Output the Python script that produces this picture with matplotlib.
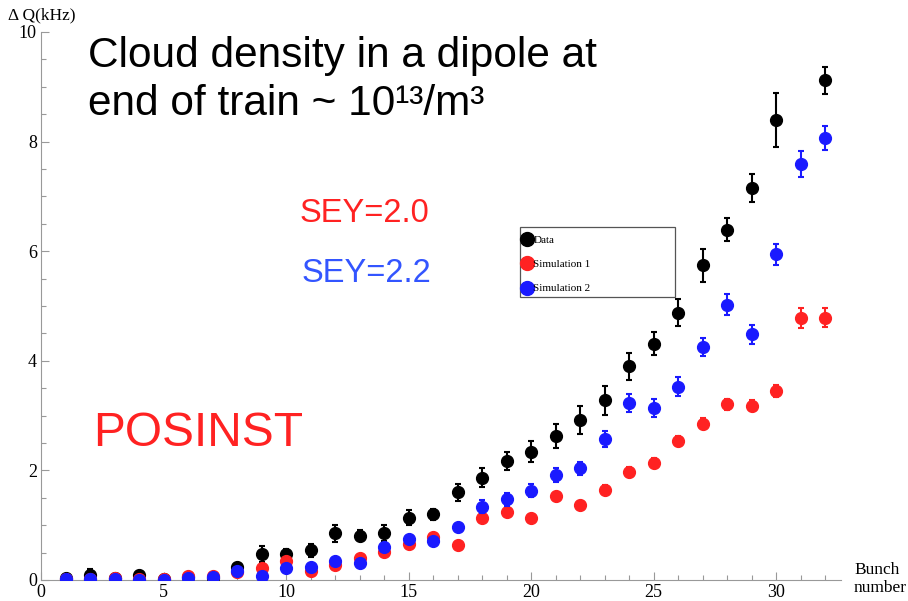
import numpy as np
import matplotlib
matplotlib.use("Agg")
import matplotlib.pyplot as plt
from matplotlib.patches import Rectangle
from matplotlib.ticker import MultipleLocator

# bunch numbers
bunch = np.arange(1, 33)

# measured tune shift (kHz), bunch 31 missing
data_y = [0.03, 0.10, 0.04, 0.10, 0.02, 0.05, 0.04, 0.24, 0.47, 0.47,
          0.54, 0.85, 0.81, 0.86, 1.14, 1.20, 1.60, 1.87, 2.17, 2.34,
          2.63, 2.92, 3.28, 3.90, 4.31, 4.88, 5.74, 6.39, 7.15, 8.40,
          np.nan, 9.12]
data_err = [0.06, 0.10, 0.03, 0.07, 0.06, 0.03, 0.04, 0.07, 0.15, 0.10,
            0.12, 0.15, 0.10, 0.15, 0.13, 0.10, 0.15, 0.18, 0.16, 0.19,
            0.22, 0.26, 0.26, 0.25, 0.21, 0.24, 0.30, 0.21, 0.25, 0.49,
            0.0, 0.25]

# POSINST, SEY=2.0
sim1_y = [0.01, 0.01, 0.03, 0.01, 0.01, 0.08, 0.08, 0.14, 0.22, 0.35,
          0.16, 0.27, 0.41, 0.52, 0.65, 0.78, 0.64, 1.13, 1.25, 1.14,
          1.53, 1.37, 1.65, 1.97, 2.13, 2.53, 2.85, 3.21, 3.18, 3.45,
          4.78, 4.79]
sim1_err = [0.02, 0.02, 0.02, 0.02, 0.02, 0.03, 0.03, 0.04, 0.04, 0.04,
            0.04, 0.04, 0.05, 0.05, 0.05, 0.05, 0.05, 0.07, 0.07, 0.07,
            0.08, 0.07, 0.08, 0.09, 0.09, 0.09, 0.10, 0.10, 0.10, 0.11,
            0.19, 0.18]

# POSINST, SEY=2.2
sim2_y = [0.01, 0.01, 0.01, 0.00, 0.00, 0.03, 0.06, 0.17, 0.08, 0.22,
          0.24, 0.35, 0.31, 0.60, 0.74, 0.72, 0.96, 1.34, 1.47, 1.63,
          1.92, 2.04, 2.57, 3.23, 3.14, 3.53, 4.25, 5.02, 4.48, 5.94,
          7.59, 8.07]
sim2_err = [0.02, 0.02, 0.02, 0.02, 0.02, 0.03, 0.03, 0.04, 0.04, 0.04,
            0.04, 0.04, 0.05, 0.05, 0.05, 0.05, 0.05, 0.12, 0.12, 0.12,
            0.13, 0.12, 0.14, 0.16, 0.16, 0.17, 0.17, 0.19, 0.17, 0.20,
            0.23, 0.22]

RED = "#ff2222"
BLUE = "#1a1aff"
serif = "Liberation Serif"
sans = "Liberation Sans"

fig = plt.figure(figsize=(9.08, 6.01), dpi=100)
ax = fig.add_axes([41 / 908, 21 / 601, 800 / 908, 548 / 601])

kw = dict(fmt="o", markersize=8.5, capsize=2.5, elinewidth=1.5, capthick=1.5)
ax.errorbar(bunch, data_y, yerr=data_err, color="black", zorder=3, **kw)
ax.errorbar(bunch, sim1_y, yerr=sim1_err, color=RED, zorder=4, **kw)
ax.errorbar(bunch, sim2_y, yerr=sim2_err, color=BLUE, zorder=5, **kw)

ax.set_xlim(0, 32.65)
ax.set_ylim(0, 10)
ax.xaxis.set_major_locator(MultipleLocator(5))
ax.xaxis.set_minor_locator(MultipleLocator(1))
ax.yaxis.set_major_locator(MultipleLocator(2))
ax.yaxis.set_minor_locator(MultipleLocator(0.5))
ax.tick_params(which="both", direction="in", color="#999999", width=0.8)
ax.tick_params(which="major", length=6, labelsize=13, pad=3)
ax.tick_params(which="minor", length=3.5)
for lab in ax.get_xticklabels() + ax.get_yticklabels():
    lab.set_fontfamily(serif)
for s in ["top", "right"]:
    ax.spines[s].set_visible(False)
for s in ["left", "bottom"]:
    ax.spines[s].set_color("#999999")
    ax.spines[s].set_linewidth(0.8)
ax.set_facecolor("none")

fig.text(8 / 908, 1 - 15 / 601, "Δ Q(kHz)", family=serif, fontsize=12.5, va="center")
fig.text(854 / 908, 1 - 579 / 601, "Bunch\nnumber", family=serif, fontsize=12.5,
         va="center", linespacing=1.2)

fig.text(88 / 908, 1 - 56 / 601, "Cloud density in a dipole at",
         family=sans, fontsize=30.5, va="center")
fig.text(88 / 908, 1 - 104 / 601, "end of train ~ 10¹³/m³",
         family=sans, fontsize=30.5, va="center")
fig.text(300 / 908, 1 - 213 / 601, "SEY=2.0", family=sans, fontsize=23.5, color=RED, va="center")
fig.text(302 / 908, 1 - 273 / 601, "SEY=2.2", family=sans, fontsize=23.5, color="#3355ff", va="center")
fig.text(93 / 908, 1 - 433 / 601, "POSINST", family=sans, fontsize=34.5, color=RED, va="center")

# legend box drawn by hand
fig.add_artist(Rectangle((520 / 908, 1 - 297 / 601), 155 / 908, 70 / 601,
                         transform=fig.transFigure, fill=False,
                         edgecolor="#555555", linewidth=0.9))
h_data = plt.Line2D([], [], ls="none", marker="o", color="black", markersize=10)
h_s1 = plt.Line2D([], [], ls="none", marker="o", color=RED, markersize=10)
h_s2 = plt.Line2D([], [], ls="none", marker="o", color=BLUE, markersize=10)
fig.legend([h_data, h_s1, h_s2], ["Data", "Simulation 1", "Simulation 2"],
           loc="upper left", bbox_to_anchor=(521 / 908, 1 - 233 / 601),
           prop={"family": serif, "size": 8}, frameon=False,
           handlelength=0.6, handletextpad=0.3, borderpad=0.2,
           labelspacing=1.3, borderaxespad=0)

fig.savefig("out.png", dpi=100)
